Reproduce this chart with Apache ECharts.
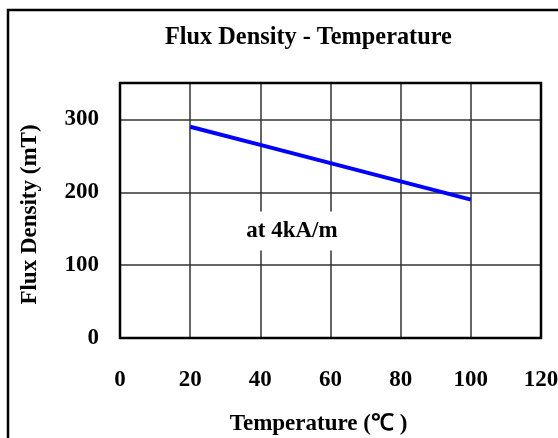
<!DOCTYPE html>
<html><head><meta charset="utf-8">
<script src="https://cdn.jsdelivr.net/npm/echarts@6/dist/echarts.min.js"></script>
<style>html,body{margin:0;padding:0;background:#fff}#c{width:558px;height:438px}</style>
</head><body><div id="c"></div>
<script>
const temperatures = [20, 40, 60, 80, 100];
const fluxDensity = [290, 265, 240, 215, 190];
const xTicks = [0, 20, 40, 60, 80, 100, 120];
const yTicks = [0, 100, 200, 300];
const titleText = 'Flux Density - Temperature';
const xName = 'Temperature (℃ )';
const yName = 'Flux Density (mT)';
const noteText = 'at 4kA/m';
const notePos = [49, 147];

const FF = "'Liberation Serif','Times New Roman',serif";
const chart = echarts.init(document.getElementById('c'));
chart.setOption({
  animation: false,
  backgroundColor: '#fff',
  title: {text: titleText, left: 160, top: 21,
    textStyle: {fontFamily: FF, fontWeight: 'bold', fontSize: 24.3, color: '#000'}},
  graphic: [{type: 'rect', shape: {x: 8, y: 10, width: 600, height: 500},
    style: {fill: null, stroke: '#000', lineWidth: 2.5}, z: 100}],
  grid: {left: 120, right: 17, top: 83, bottom: 100, show: true, outerBoundsMode: 'none', containLabel: false,
    borderColor: '#000', borderWidth: 2.5, backgroundColor: 'transparent', z: 3},
  xAxis: {type: 'value', min: 0, max: 120, interval: 20,
    name: xName, nameLocation: 'middle', nameGap: 75,
    nameTextStyle: {fontFamily: FF, fontWeight: 'bold', fontSize: 23, color: '#000', padding: [0, 24, 0, 0]},
    axisLine: {show: false}, axisTick: {show: false},
    axisLabel: {margin: 31, fontFamily: FF, fontWeight: 'bold', fontSize: 23, color: '#000',
      formatter: v => xTicks.includes(v) ? String(v) : ''},
    splitLine: {show: true, lineStyle: {color: '#333', width: 1.5}}},
  yAxis: {type: 'value', min: 0, max: 350, interval: 100,
    name: yName, nameLocation: 'middle', nameGap: 78, nameRotate: 90,
    nameTextStyle: {fontFamily: FF, fontWeight: 'bold', fontSize: 23, color: '#000', padding: [0, 8, 0, 0]},
    axisLine: {show: false}, axisTick: {show: false},
    axisLabel: {margin: 21, fontFamily: FF, fontWeight: 'bold', fontSize: 23, color: '#000',
      formatter: v => yTicks.includes(v) ? String(v) : ''},
    splitLine: {show: true, lineStyle: {color: '#333', width: 1.5}}},
  series: [{type: 'line', data: temperatures.map((t, i) => [t, fluxDensity[i]]),
    showSymbol: false, symbol: 'none', lineStyle: {color: '#0000ff', width: 4}, z: 5,
    markPoint: {symbol: 'rect', symbolSize: 0, silent: true,
      data: [{coord: notePos, value: noteText}],
      label: {show: true, position: 'inside', formatter: noteText,
        fontFamily: FF, fontWeight: 'bold', fontSize: 23, color: '#000',
        backgroundColor: '#fff', padding: [8, 7]}}}]
});
</script></body></html>
